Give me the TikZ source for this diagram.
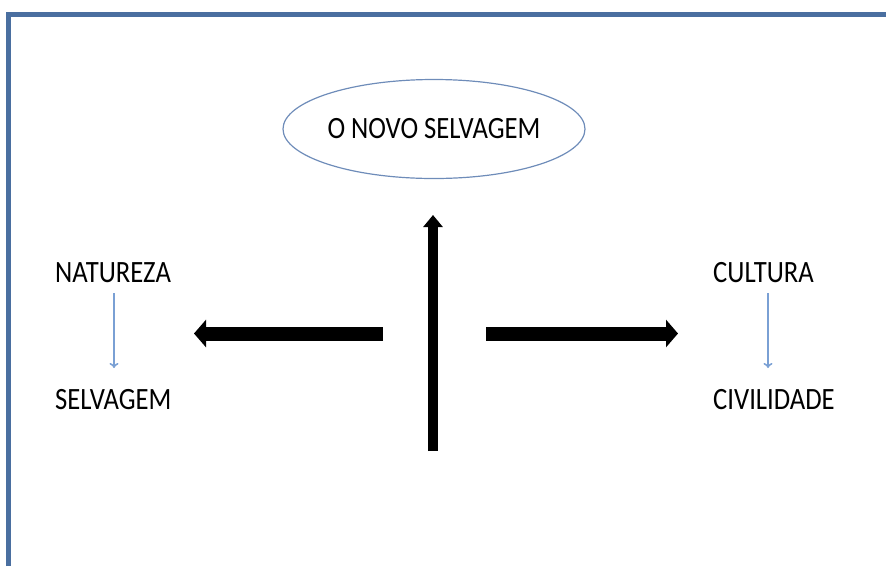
\documentclass[tikz,border=0pt]{standalone}
\usepackage{fontspec}
\setmainfont{Carlito}[FakeStretch=0.86]
\usetikzlibrary{arrows.meta,shapes.geometric}
\definecolor{frameblue}{RGB}{74,111,160}
\definecolor{ellblue}{RGB}{110,140,185}
\definecolor{smallblue}{RGB}{122,160,212}
\tikzset{
  lbl/.style={inner sep=0pt, font=\fontsize{31}{31}\selectfont, text=black},
  bigarrow/.style={line width=14pt, -{Triangle[width=27pt,length=12pt]}},
  vertarrow/.style={line width=10pt, -{Triangle[width=19pt,length=12pt]}},
  smallarrow/.style={draw=smallblue, line width=1.6pt, -{To[length=5pt,width=9pt]}},
}
\begin{document}
\begin{tikzpicture}[x=1pt,y=-1pt]
\useasboundingbox (0,0) rectangle (886,566);
% frame
\draw[frameblue, line width=5pt] (8,566) -- (8,14.5) -- (886,14.5);
% ellipse
\node[ellipse, draw=ellblue, line width=1.2pt, minimum width=302pt, minimum height=99pt,
      lbl, inner sep=0pt] (top) at (434,129) {O NOVO SELVAGEM};
% left texts
\node[lbl, anchor=west] (nat) at (55,273) {NATUREZA};
\node[lbl, anchor=west] (sel) at (55,400) {SELVAGEM};
\node[lbl, anchor=west] (cul) at (713,273) {CULTURA};
\node[lbl, anchor=west] (civ) at (713,400) {CIVILIDADE};
% small arrows
\coordinate (na1) at (114,293);
\coordinate (na2) at (114,368);
\coordinate (cu1) at (768,293);
\coordinate (cu2) at (768,368);
\draw[smallarrow] (na1) -- (na2);
\draw[smallarrow] (cu1) -- (cu2);
% big arrows
\coordinate (lstart) at (383,333.5);
\coordinate (lend) at (194,333.5);
\coordinate (rstart) at (486,333.5);
\coordinate (rend) at (678,333.5);
\coordinate (vstart) at (433,451);
\coordinate (vend) at (433,215);
\draw[bigarrow] (lstart) -- (lend);
\draw[bigarrow] (rstart) -- (rend);
\draw[vertarrow] (vstart) -- (vend);
\end{tikzpicture}
\end{document}
